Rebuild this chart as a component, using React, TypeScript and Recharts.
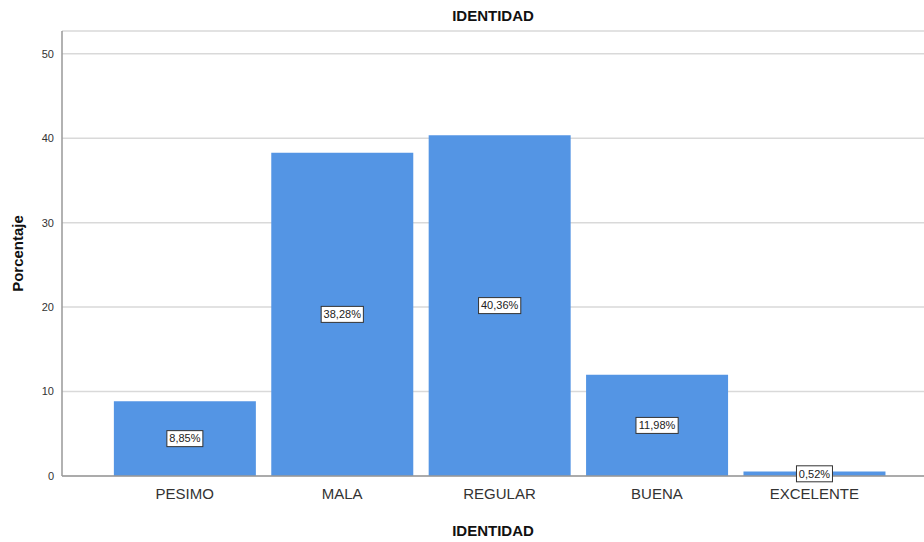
import React from 'react';
import { BarChart, Bar, XAxis, YAxis, CartesianGrid, LabelList } from 'recharts';

const categories = ['PESIMO', 'MALA', 'REGULAR', 'BUENA', 'EXCELENTE'];
const percentages = [8.85, 38.28, 40.36, 11.98, 0.52];
const yTicks = [0, 10, 20, 30, 40, 50];

const data = categories.map((name, i) => ({ name, value: percentages[i] }));

const FONT = '"Liberation Sans", Arial, sans-serif';

// boxed value label in the middle of each bar
const BoxLabel = (props: any) => {
    const { x, y, width, height, value } = props;
    const text = `${Number(value).toFixed(2).replace('.', ',')}%`;
    const cx = x + width / 2;
    const cy = y + height / 2;
    const w = text.length * 6.2 + 5;
    const h = 16;
    return (
        <g>
            <rect x={cx - w / 2} y={cy - h / 2} width={w} height={h} fill="#ffffff" stroke="#333333" strokeWidth={1} />
            <text x={cx} y={cy} dy="0.35em" textAnchor="middle" fontSize={11} fontFamily={FONT} fill="#222222">
                {text}
            </text>
        </g>
    );
};

const App: React.FC = () => {
    return (
        <div style={{ position: 'fixed', left: 0, top: 0, width: 924, height: 542, background: '#fff', fontFamily: FONT }}>
            <div
                style={{
                    position: 'absolute',
                    left: 62,
                    width: 862,
                    top: 7,
                    textAlign: 'center',
                    fontSize: 15,
                    fontWeight: 'bold',
                    color: '#111',
                }}
            >
                IDENTIDAD
            </div>
            <BarChart
                width={924}
                height={542}
                data={data}
                margin={{ top: 31, right: 0, bottom: 0, left: 0 }}
                barCategoryGap="5%"
            >
                <CartesianGrid vertical={false} stroke="#d9d9d9" strokeWidth={1.5} />
                <XAxis
                    dataKey="name"
                    height={66}
                    padding={{ left: 44, right: 31 }}
                    tickLine={false}
                    tickSize={6}
                    tickMargin={6}
                    axisLine={{ stroke: '#999999', strokeWidth: 1.5 }}
                    tick={{ fontSize: 15, fill: '#333333', fontFamily: FONT }}
                    label={{
                        value: 'IDENTIDAD',
                        position: 'insideBottom',
                        offset: 6,
                        style: { fontSize: 15, fontWeight: 'bold', fill: '#111', fontFamily: FONT },
                    }}
                />
                <YAxis
                    width={62}
                    domain={[0, 52.7]}
                    ticks={yTicks}
                    allowDataOverflow
                    tickLine={false}
                    tickSize={6}
                    tickMargin={2}
                    axisLine={{ stroke: '#999999', strokeWidth: 1.5 }}
                    tick={{ fontSize: 11, fill: '#333333', fontFamily: FONT }}
                    label={{
                        value: 'Porcentaje',
                        angle: -90,
                        position: 'insideLeft',
                        offset: 18,
                        style: { fontSize: 15, fontWeight: 'bold', fill: '#111', fontFamily: FONT, textAnchor: 'middle' },
                    }}
                />
                <Bar dataKey="value" fill="#5495e4" isAnimationActive={false}>
                    <LabelList dataKey="value" content={<BoxLabel />} />
                </Bar>
            </BarChart>
        </div>
    );
};

export default App;
